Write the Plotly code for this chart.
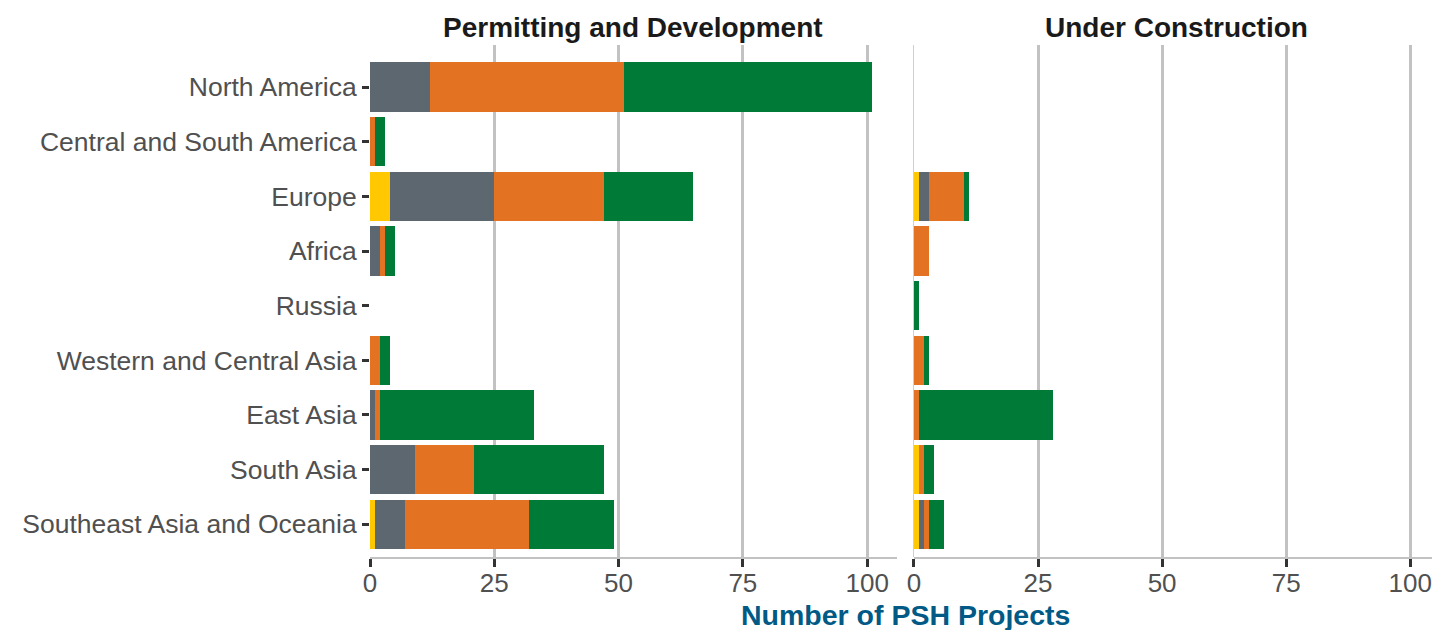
import plotly.graph_objects as go
from plotly.subplots import make_subplots

regions = ["North America", "Central and South America", "Europe", "Africa", "Russia",
           "Western and Central Asia", "East Asia", "South Asia", "Southeast Asia and Oceania"]

series_names = ["Category 1", "Category 2", "Category 3", "Category 4"]
series_colors = ["#FFC800", "#5C6770", "#E37222", "#007A37"]

# Permitting and Development
pd_s1 = [0, 0, 4, 0, 0, 0, 0, 0, 1]
pd_s2 = [12, 0, 21, 2, 0, 0, 1, 9, 6]
pd_s3 = [39, 1, 22, 1, 0, 2, 1, 12, 25]
pd_s4 = [50, 2, 18, 2, 0, 2, 31, 26, 17]

# Under Construction
uc_s1 = [0, 0, 1, 0, 0, 0, 0, 1, 1]
uc_s2 = [0, 0, 2, 0, 0, 0, 0, 0, 1]
uc_s3 = [0, 0, 7, 3, 0, 2, 1, 1, 1]
uc_s4 = [0, 0, 1, 0, 1, 1, 27, 2, 3]

x_ticks = [0, 25, 50, 75, 100]

fig = make_subplots(rows=1, cols=2, shared_yaxes=True)

pd_data = [pd_s1, pd_s2, pd_s3, pd_s4]
uc_data = [uc_s1, uc_s2, uc_s3, uc_s4]

for name, color, vals in zip(series_names, series_colors, pd_data):
    fig.add_trace(go.Bar(y=regions, x=vals, name=name, orientation="h",
                         marker=dict(color=color, line=dict(width=0)),
                         showlegend=False), row=1, col=1)
for name, color, vals in zip(series_names, series_colors, uc_data):
    fig.add_trace(go.Bar(y=regions, x=vals, name=name, orientation="h",
                         marker=dict(color=color, line=dict(width=0)),
                         showlegend=False), row=1, col=2)

base_family = "'Liberation Sans', Arial, sans-serif"
ytick_font = dict(family=base_family, size=26.5, color="#505050")
xtick_font = dict(family=base_family, size=26, color="#505050")
grid_col = "#C2C2C2"

common_x = dict(range=[0, 106], tickvals=x_ticks, ticktext=[str(v) for v in x_ticks],
                showgrid=True, gridcolor=grid_col, gridwidth=3,
                showline=True, linecolor=grid_col, linewidth=2,
                ticks="outside", ticklen=8, tickwidth=3, tickcolor="#333333",
                tickfont=xtick_font, ticklabelstandoff=-6, fixedrange=True)

fig.update_layout(
    width=1440, height=630,
    margin=dict(l=362, r=8, t=37, b=81),
    barmode="stack", bargap=0.1,
    plot_bgcolor="white", paper_bgcolor="white",
    xaxis=dict(domain=[0, 0.4925], zeroline=False, **common_x),
    xaxis2=dict(domain=[0.5084, 1.0], zeroline=True, zerolinecolor="#D0D0D0",
                zerolinewidth=1, **common_x),
    yaxis=dict(categoryorder="array", categoryarray=regions, range=[8.6, -0.77],
               ticks="outside", ticklen=7, tickwidth=3, tickcolor="#333333",
               tickfont=ytick_font, showgrid=False, showline=False),
    yaxis2=dict(range=[8.6, -0.77], showgrid=False, showline=False, ticks="",
                showticklabels=False),
)

title_font = dict(family=base_family, size=28, color="#1A1A1A")
fig.add_annotation(text="<b>Permitting and Development</b>", xref="x domain", yref="paper",
                   x=0.5, y=1.035, yanchor="middle", showarrow=False, font=title_font)
fig.add_annotation(text="<b>Under Construction</b>", xref="x2 domain", yref="paper",
                   x=0.5, y=1.035, yanchor="middle", showarrow=False, font=title_font)
fig.add_annotation(text="<b>Number of PSH Projects</b>", xref="paper", yref="paper",
                   x=0.5, y=-0.113, yanchor="middle", showarrow=False,
                   font=dict(family=base_family, size=28.5, color="#005A85"))

fig.write_html("out.html")
